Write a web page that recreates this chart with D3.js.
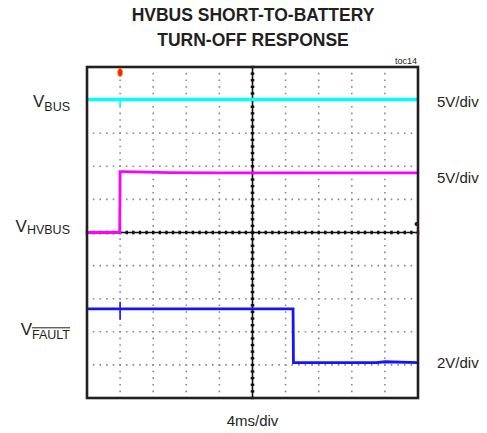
<!DOCTYPE html>
<meta charset="utf-8">
<script src="https://cdn.jsdelivr.net/npm/d3@7"></script>
<style>
    body { margin: 0; background: #fff; }
    text { font-family: "Liberation Sans", Arial, sans-serif; fill: #231f20; }
</style>
<div id="scope"></div>
<script>

    // scope settings: 10 x 10 divisions, 4ms/div, trigger at one division from the left
    var timeTicks = [-20, -16, -12, -8, -4, 0, 4, 8, 12, 16, 20];   // ms
    var divTicks = [-5, -4, -3, -2, -1, 0, 1, 2, 3, 4, 5];

    // channel names and settings (volts per div, ground offset in divisions)
    var channels = ["VBUS", "VHVBUS", "VFAULT"];
    var voltsPerDiv = [5, 5, 2];
    var groundDiv = [3.0, 0, -3.93];
    var colors = ["#00ffff", "#ff00ff", "#1414ff"];
    var scaleLabels = ["5V/div", "5V/div", "2V/div"];

    // traces: time in ms, level in volts
    var vbusTime = [-20, 20];
    var vbusVolts = [5.1, 5.1];
    var hvbusTime = [-20, -16.05, -16.0, -15.5, -10, -4, 0, 10, 20];
    var hvbusVolts = [0, 0, 9.2, 9.2, 9.05, 9.0, 9.0, 9.0, 9.0];
    var faultTime = [-20, 0, 4.9, 4.95, 15, 16, 20];
    var faultVolts = [3.25, 3.25, 3.25, 0, 0, 0.05, 0];

    var W = 487, H = 433;
    var box = {left: 87, top: 67, right: 418, bottom: 398};

    var svg = d3.select("#scope")
        .append("svg")
        .attr("width", W)
        .attr("height", H);

    var x = d3.scaleLinear()
        .domain([-20, 20])
        .range([box.left, box.right]);

    var y = d3.scaleLinear()
        .domain([-5, 5])
        .range([box.bottom, box.top]);

    // title
    svg.append("text")
        .attr("x", 253).attr("y", 21)
        .attr("text-anchor", "middle")
        .style("font-weight", "bold").style("font-size", "17.5px")
        .text("HVBUS SHORT-TO-BATTERY");
    svg.append("text")
        .attr("x", 253).attr("y", 46)
        .attr("text-anchor", "middle")
        .style("font-weight", "bold").style("font-size", "17.5px")
        .text("TURN-OFF RESPONSE");
    svg.append("text")
        .attr("x", 417).attr("y", 64)
        .attr("text-anchor", "end")
        .style("font-size", "9px")
        .text("toc14");

    // dotted graticule
    var step = (box.right - box.left) / 50;
    var grid = svg.append("g");
    grid.selectAll(".vg")
        .data(timeTicks.slice(1, -1).filter(function(t) { return t !== 0; }))
        .enter().append("line")
        .attr("x1", function(d) { return x(d); })
        .attr("x2", function(d) { return x(d); })
        .attr("y1", box.top).attr("y2", box.bottom)
        .attr("stroke", "#8a8a8a").attr("stroke-width", 1.6)
        .attr("stroke-dasharray", "1.6," + (step - 1.6))
        .attr("stroke-dashoffset", 0.8 - step);
    grid.selectAll(".hg")
        .data(divTicks.slice(1, -1).filter(function(t) { return t !== 0; }))
        .enter().append("line")
        .attr("y1", function(d) { return y(d); })
        .attr("y2", function(d) { return y(d); })
        .attr("x1", box.left).attr("x2", box.right)
        .attr("stroke", "#8a8a8a").attr("stroke-width", 1.6)
        .attr("stroke-dasharray", "1.6," + (step - 1.6))
        .attr("stroke-dashoffset", 0.8 - step);

    // centre axes with small ticks
    var minor = d3.range(-5, 5.01, 0.2);
    grid.append("line")
        .attr("x1", x(0)).attr("x2", x(0))
        .attr("y1", box.top).attr("y2", box.bottom)
        .attr("stroke", "#111").attr("stroke-width", 1.6);
    grid.append("line")
        .attr("y1", y(0)).attr("y2", y(0))
        .attr("x1", box.left).attr("x2", box.right)
        .attr("stroke", "#111").attr("stroke-width", 1.6);
    grid.selectAll(".vt")
        .data(minor)
        .enter().append("line")
        .attr("x1", x(0) - 1.8).attr("x2", x(0) + 1.8)
        .attr("y1", function(d) { return y(d); })
        .attr("y2", function(d) { return y(d); })
        .attr("stroke", "#111").attr("stroke-width", 2.4);
    grid.selectAll(".ht")
        .data(minor)
        .enter().append("line")
        .attr("y1", y(0) - 1.8).attr("y2", y(0) + 1.8)
        .attr("x1", function(d) { return x(d * 4); })
        .attr("x2", function(d) { return x(d * 4); })
        .attr("stroke", "#111").attr("stroke-width", 2.4);

    // traces
    var traces = [
        d3.zip(vbusTime, vbusVolts),
        d3.zip(hvbusTime, hvbusVolts),
        d3.zip(faultTime, faultVolts)
    ];

    function yOf(i, v) { return y(groundDiv[i] + v / voltsPerDiv[i]); }

    traces.forEach(function(pts, i) {
        var line = d3.line()
            .x(function(d) { return x(d[0]); })
            .y(function(d) { return yOf(i, d[1]); });
        svg.append("path")
            .datum(pts)
            .attr("d", line)
            .attr("fill", "none")
            .attr("stroke", colors[i])
            .attr("stroke-width", i === 0 ? 3.6 : 2.8)
            .attr("stroke-linejoin", "miter");
    });

    // trigger glitches on VBUS and VFAULT
    svg.append("line")
        .attr("x1", x(-16)).attr("x2", x(-16))
        .attr("y1", yOf(0, 5.1)).attr("y2", yOf(0, 5.1) + 7)
        .attr("stroke", colors[0]).attr("stroke-width", 1.6);
    svg.append("line")
        .attr("x1", x(-16)).attr("x2", x(-16))
        .attr("y1", yOf(2, 3.25) - 7).attr("y2", yOf(2, 3.25) + 11)
        .attr("stroke", colors[2]).attr("stroke-width", 1.6);

    // frame
    svg.append("rect")
        .attr("x", box.left).attr("y", box.top)
        .attr("width", box.right - box.left)
        .attr("height", box.bottom - box.top)
        .attr("fill", "none")
        .attr("stroke", "#231f20").attr("stroke-width", 2.6);

    // trigger position marker and reference marker
    svg.append("ellipse")
        .attr("cx", x(-16)).attr("cy", box.top + 5.5)
        .attr("rx", 2.4).attr("ry", 4)
        .attr("fill", "#ff1a00").attr("stroke", "#ff8a00").attr("stroke-width", 0.8);
    svg.append("circle")
        .attr("cx", box.right - 1.5).attr("cy", y(0.26))
        .attr("r", 2)
        .attr("fill", "#3a1030");

    // channel labels on the left
    var labelBase = [107, 231.5, 335];
    var subDy = [3.5, 2.5, 3.5];
    var subs = ["BUS", "HVBUS", "FAULT"];
    subs.forEach(function(s, i) {
        var t = svg.append("text")
            .attr("x", 70).attr("y", labelBase[i])
            .attr("text-anchor", "end");
        t.append("tspan").style("font-size", "17px").text("V");
        var sub = t.append("tspan")
            .attr("dy", subDy[i])
            .style("font-size", "12.5px")
            .text(s);
        if (s === "FAULT") {
            var wSub = sub.node().getComputedTextLength();
            svg.append("line")
                .attr("x1", 70 - wSub).attr("x2", 70)
                .attr("y1", 327.8).attr("y2", 327.8)
                .attr("stroke", "#231f20").attr("stroke-width", 1);
        }
    });

    // volts per div labels on the right
    var scaleY = [106.5, 183, 368];
    scaleLabels.forEach(function(s, i) {
        svg.append("text")
            .attr("x", 437).attr("y", scaleY[i])
            .style("font-size", "15px")
            .text(s);
    });

    svg.append("text")
        .attr("x", 252.5).attr("y", 426)
        .attr("text-anchor", "middle")
        .style("font-size", "15px")
        .text("4ms/div");

</script>
